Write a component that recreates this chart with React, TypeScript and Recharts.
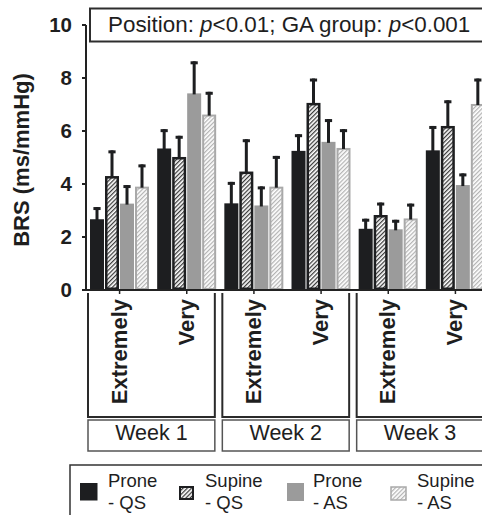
import React from 'react';
import { BarChart, Bar, XAxis, YAxis } from 'recharts';

// ---------- data ----------
const weeks = ['Week 1', 'Week 2', 'Week 3'];
const gaGroups = ['Extremely', 'Very'];
const seriesLabels = ['Prone - QS', 'Supine - QS', 'Prone - AS', 'Supine - AS'];

// order: W1-Extremely, W1-Very, W2-Extremely, W2-Very, W3-Extremely, W3-Very
const proneQS = [2.67, 5.34, 3.27, 5.25, 2.31, 5.27];
const proneQSErr = [0.46, 0.73, 0.81, 0.63, 0.38, 0.92];
const supineQS = [4.30, 5.02, 4.47, 7.06, 2.83, 6.19];
const supineQSErr = [0.97, 0.80, 1.22, 0.92, 0.47, 0.97];
const proneAS = [3.26, 7.42, 3.19, 5.59, 2.29, 3.96];
const proneASErr = [0.70, 1.21, 0.72, 0.86, 0.36, 0.44];
const supineAS = [3.90, 6.62, 3.90, 5.36, 2.70, 7.02];
const supineASErr = [0.84, 0.86, 1.16, 0.71, 0.56, 0.96];

const yTicks = [0, 2, 4, 6, 8, 10];
const yLabel = 'BRS (ms/mmHg)';
const titleParts = ['Position: ', 'p', '<0.01; GA group: ', 'p', '<0.001'];

// ---------- layout ----------
const W = 500;
const H = 515;
const PLOT_LEFT = 86;
const PLOT_RIGHT = 489;
const PLOT_TOP = 25;
const PLOT_BOTTOM = 290;
const Y_AXIS_W = 70;
const N_CAT = weeks.length * gaGroups.length;
const BAND = (PLOT_RIGHT - PLOT_LEFT) / N_CAT;

const BLACK = '#1d1e20';
const GRAY = '#9b9b9b';
const LIGHT_BORDER = '#a9a9a9';
const TEXT = '#1e1e1e';
const FONT = "'Liberation Sans', Arial, Helvetica, sans-serif";

const data = weeks.flatMap((w, wi) =>
  gaGroups.map((g, gi) => {
    const i = wi * gaGroups.length + gi;
    return {
      key: `${w}|${g}`,
      week: w,
      group: g,
      first: gi === 0,
      pqs: proneQS[i],
      pqsE: proneQSErr[i],
      sqs: supineQS[i],
      sqsE: supineQSErr[i],
      pas: proneAS[i],
      pasE: proneASErr[i],
      sas: supineAS[i],
      sasE: supineASErr[i],
    };
  })
);

type Kind = 'solid' | 'hatch';

const makeShape =
  (valKey: string, errKey: string, kind: Kind, color: string, hatchId?: string, sw = 0) =>
  (props: any) => {
    const { x, y, width, height, payload } = props;
    const v = payload[valKey];
    const e = payload[errKey];
    const ppu = v ? height / v : 0;
    const cx = x + width / 2;
    const yTop = y - e * ppu;
    return (
      <g>
        {kind === 'solid' ? (
          <rect x={x} y={y} width={width} height={height} fill={color} />
        ) : (
          <rect
            x={x + sw / 2}
            y={y + sw / 2}
            width={width - sw}
            height={height - sw}
            fill={`url(#${hatchId})`}
            stroke={color}
            strokeWidth={sw}
          />
        )}
        <rect x={cx - 1.5} y={yTop} width={3} height={y - yTop + 1} fill={BLACK} />
        <rect x={cx - 3.6} y={yTop} width={7.2} height={3} fill={BLACK} />
      </g>
    );
  };

const CategoryTick = (props: any) => {
  const { x, payload } = props;
  const row = data.find((d) => d.key === payload.value);
  if (!row) return null;
  const lx = x + 7;
  const ly = 299;
  const els: React.ReactNode[] = [
    <text
      key="lab"
      x={lx}
      y={ly}
      transform={`rotate(-90 ${lx} ${ly})`}
      textAnchor="end"
      fontWeight="bold"
      fontSize={22}
      fill={TEXT}
    >
      {row.group}
    </text>,
  ];
  if (row.first) {
    const left = x - BAND / 2 + 2;
    const right = x + BAND * 1.5 - 5.5;
    els.push(
      <path
        key="br"
        d={`M${left},293 V417 H${right} V293`}
        stroke="#2a2a2a"
        strokeWidth={2}
        fill="none"
      />,
      <rect
        key="wb"
        x={left}
        y={420}
        width={right - left}
        height={31}
        fill="none"
        stroke="#555"
        strokeWidth={1.5}
      />,
      <text key="wt" x={(left + right) / 2} y={440} textAnchor="middle" fontSize={21.5} fill={TEXT}>
        {row.week}
      </text>
    );
  }
  return <g>{els}</g>;
};

const legendX = [80, 180, 287, 391];
const legendTextX = [108, 205, 313, 417];

const LegendSwatch = ({ i }: { i: number }) => {
  const x = legendX[i];
  if (i === 0) return <rect x={x} y={483} width={17.5} height={17.5} fill={BLACK} />;
  if (i === 1)
    return <rect x={x} y={487} width={13} height={12} fill="url(#hatchDarkL)" stroke={BLACK} strokeWidth={2} />;
  if (i === 2) return <rect x={x} y={483} width={17} height={18} fill={GRAY} />;
  return <rect x={x} y={487} width={15} height={13} fill="url(#hatchLightL)" stroke={LIGHT_BORDER} strokeWidth={1.5} />;
};

export default function App() {
  return (
    <div
      style={{
        position: 'absolute',
        left: 0,
        top: 0,
        width: 482,
        height: 515,
        overflow: 'hidden',
        background: '#fff',
        fontFamily: FONT,
      }}
    >
      <BarChart
        width={W}
        height={H}
        data={data}
        margin={{ top: PLOT_TOP, right: W - PLOT_RIGHT, bottom: 0, left: PLOT_LEFT - Y_AXIS_W }}
        barCategoryGap={4}
        barGap={1}
      >
        <defs>
          <pattern id="hatchDark" patternUnits="userSpaceOnUse" width="3" height="3" patternTransform="rotate(45)">
            <rect width="3" height="3" fill="#ffffff" />
            <line x1="0.6" y1="0" x2="0.6" y2="3" stroke="#3a3a3a" strokeWidth="1.3" />
          </pattern>
          <pattern id="hatchLight" patternUnits="userSpaceOnUse" width="3" height="3" patternTransform="rotate(45)">
            <rect width="3" height="3" fill="#ffffff" />
            <line x1="0.6" y1="0" x2="0.6" y2="3" stroke="#b3b3b3" strokeWidth="1.3" />
          </pattern>
        </defs>
        <XAxis
          dataKey="key"
          interval={0}
          height={H - PLOT_BOTTOM}
          tickSize={4}
          tickMargin={0}
          axisLine={{ stroke: '#222', strokeWidth: 2 }}
          tickLine={{ stroke: '#222', strokeWidth: 1.5 }}
          tick={(p: any) => <CategoryTick {...p} />}
        />
        <YAxis
          width={Y_AXIS_W}
          domain={[0, 10]}
          ticks={yTicks}
          interval={0}
          tickSize={4}
          tickMargin={10}
          axisLine={{ stroke: '#222', strokeWidth: 2 }}
          tickLine={{ stroke: '#222', strokeWidth: 2 }}
          tick={{ fontSize: 20.5, fontWeight: 'bold', fill: TEXT }}
        />
        <Bar dataKey="pqs" name={seriesLabels[0]} isAnimationActive={false} shape={makeShape('pqs', 'pqsE', 'solid', BLACK)} />
        <Bar dataKey="sqs" name={seriesLabels[1]} isAnimationActive={false} shape={makeShape('sqs', 'sqsE', 'hatch', BLACK, 'hatchDark', 2.5)} />
        <Bar dataKey="pas" name={seriesLabels[2]} isAnimationActive={false} shape={makeShape('pas', 'pasE', 'solid', GRAY)} />
        <Bar dataKey="sas" name={seriesLabels[3]} isAnimationActive={false} shape={makeShape('sas', 'sasE', 'hatch', LIGHT_BORDER, 'hatchLight', 2)} />
      </BarChart>

      <svg
        width={482}
        height={515}
        style={{ position: 'absolute', left: 0, top: 0, pointerEvents: 'none', fontFamily: FONT }}
      >
        <defs>
          <pattern id="hatchDarkL" patternUnits="userSpaceOnUse" width="3" height="3" patternTransform="rotate(45)">
            <rect width="3" height="3" fill="#ffffff" />
            <line x1="0.6" y1="0" x2="0.6" y2="3" stroke="#3a3a3a" strokeWidth="1.3" />
          </pattern>
          <pattern id="hatchLightL" patternUnits="userSpaceOnUse" width="3" height="3" patternTransform="rotate(45)">
            <rect width="3" height="3" fill="#ffffff" />
            <line x1="0.6" y1="0" x2="0.6" y2="3" stroke="#b3b3b3" strokeWidth="1.3" />
          </pattern>
        </defs>
        {/* y axis label */}
        <text
          x={29}
          y={160}
          transform="rotate(-90 29 160)"
          textAnchor="middle"
          fontWeight="bold"
          fontSize={22}
          fill={TEXT}
        >
          {yLabel}
        </text>
        {/* title box */}
        <rect x={90} y={8.5} width={420} height={33} fill="#fff" stroke="#2e2e2e" strokeWidth={2} />
        <text x={108} y={32} fontSize={22.4} fill={TEXT}>
          {titleParts.map((t, i) => (
            <tspan key={i} fontStyle={t === 'p' ? 'italic' : 'normal'}>
              {t}
            </tspan>
          ))}
        </text>
        {/* legend */}
        <rect x={70} y={465} width={430} height={70} fill="none" stroke="#333" strokeWidth={1.5} />
        {seriesLabels.map((s, i) => {
          const [a, b] = s.split(' - ');
          return (
            <g key={s}>
              <LegendSwatch i={i} />
              <text x={legendTextX[i]} y={486.5} fontSize={18.5} fill={TEXT}>
                {a}
              </text>
              <text x={legendTextX[i]} y={508.5} fontSize={18.5} fill={TEXT}>
                {`- ${b}`}
              </text>
            </g>
          );
        })}
      </svg>
    </div>
  );
}
